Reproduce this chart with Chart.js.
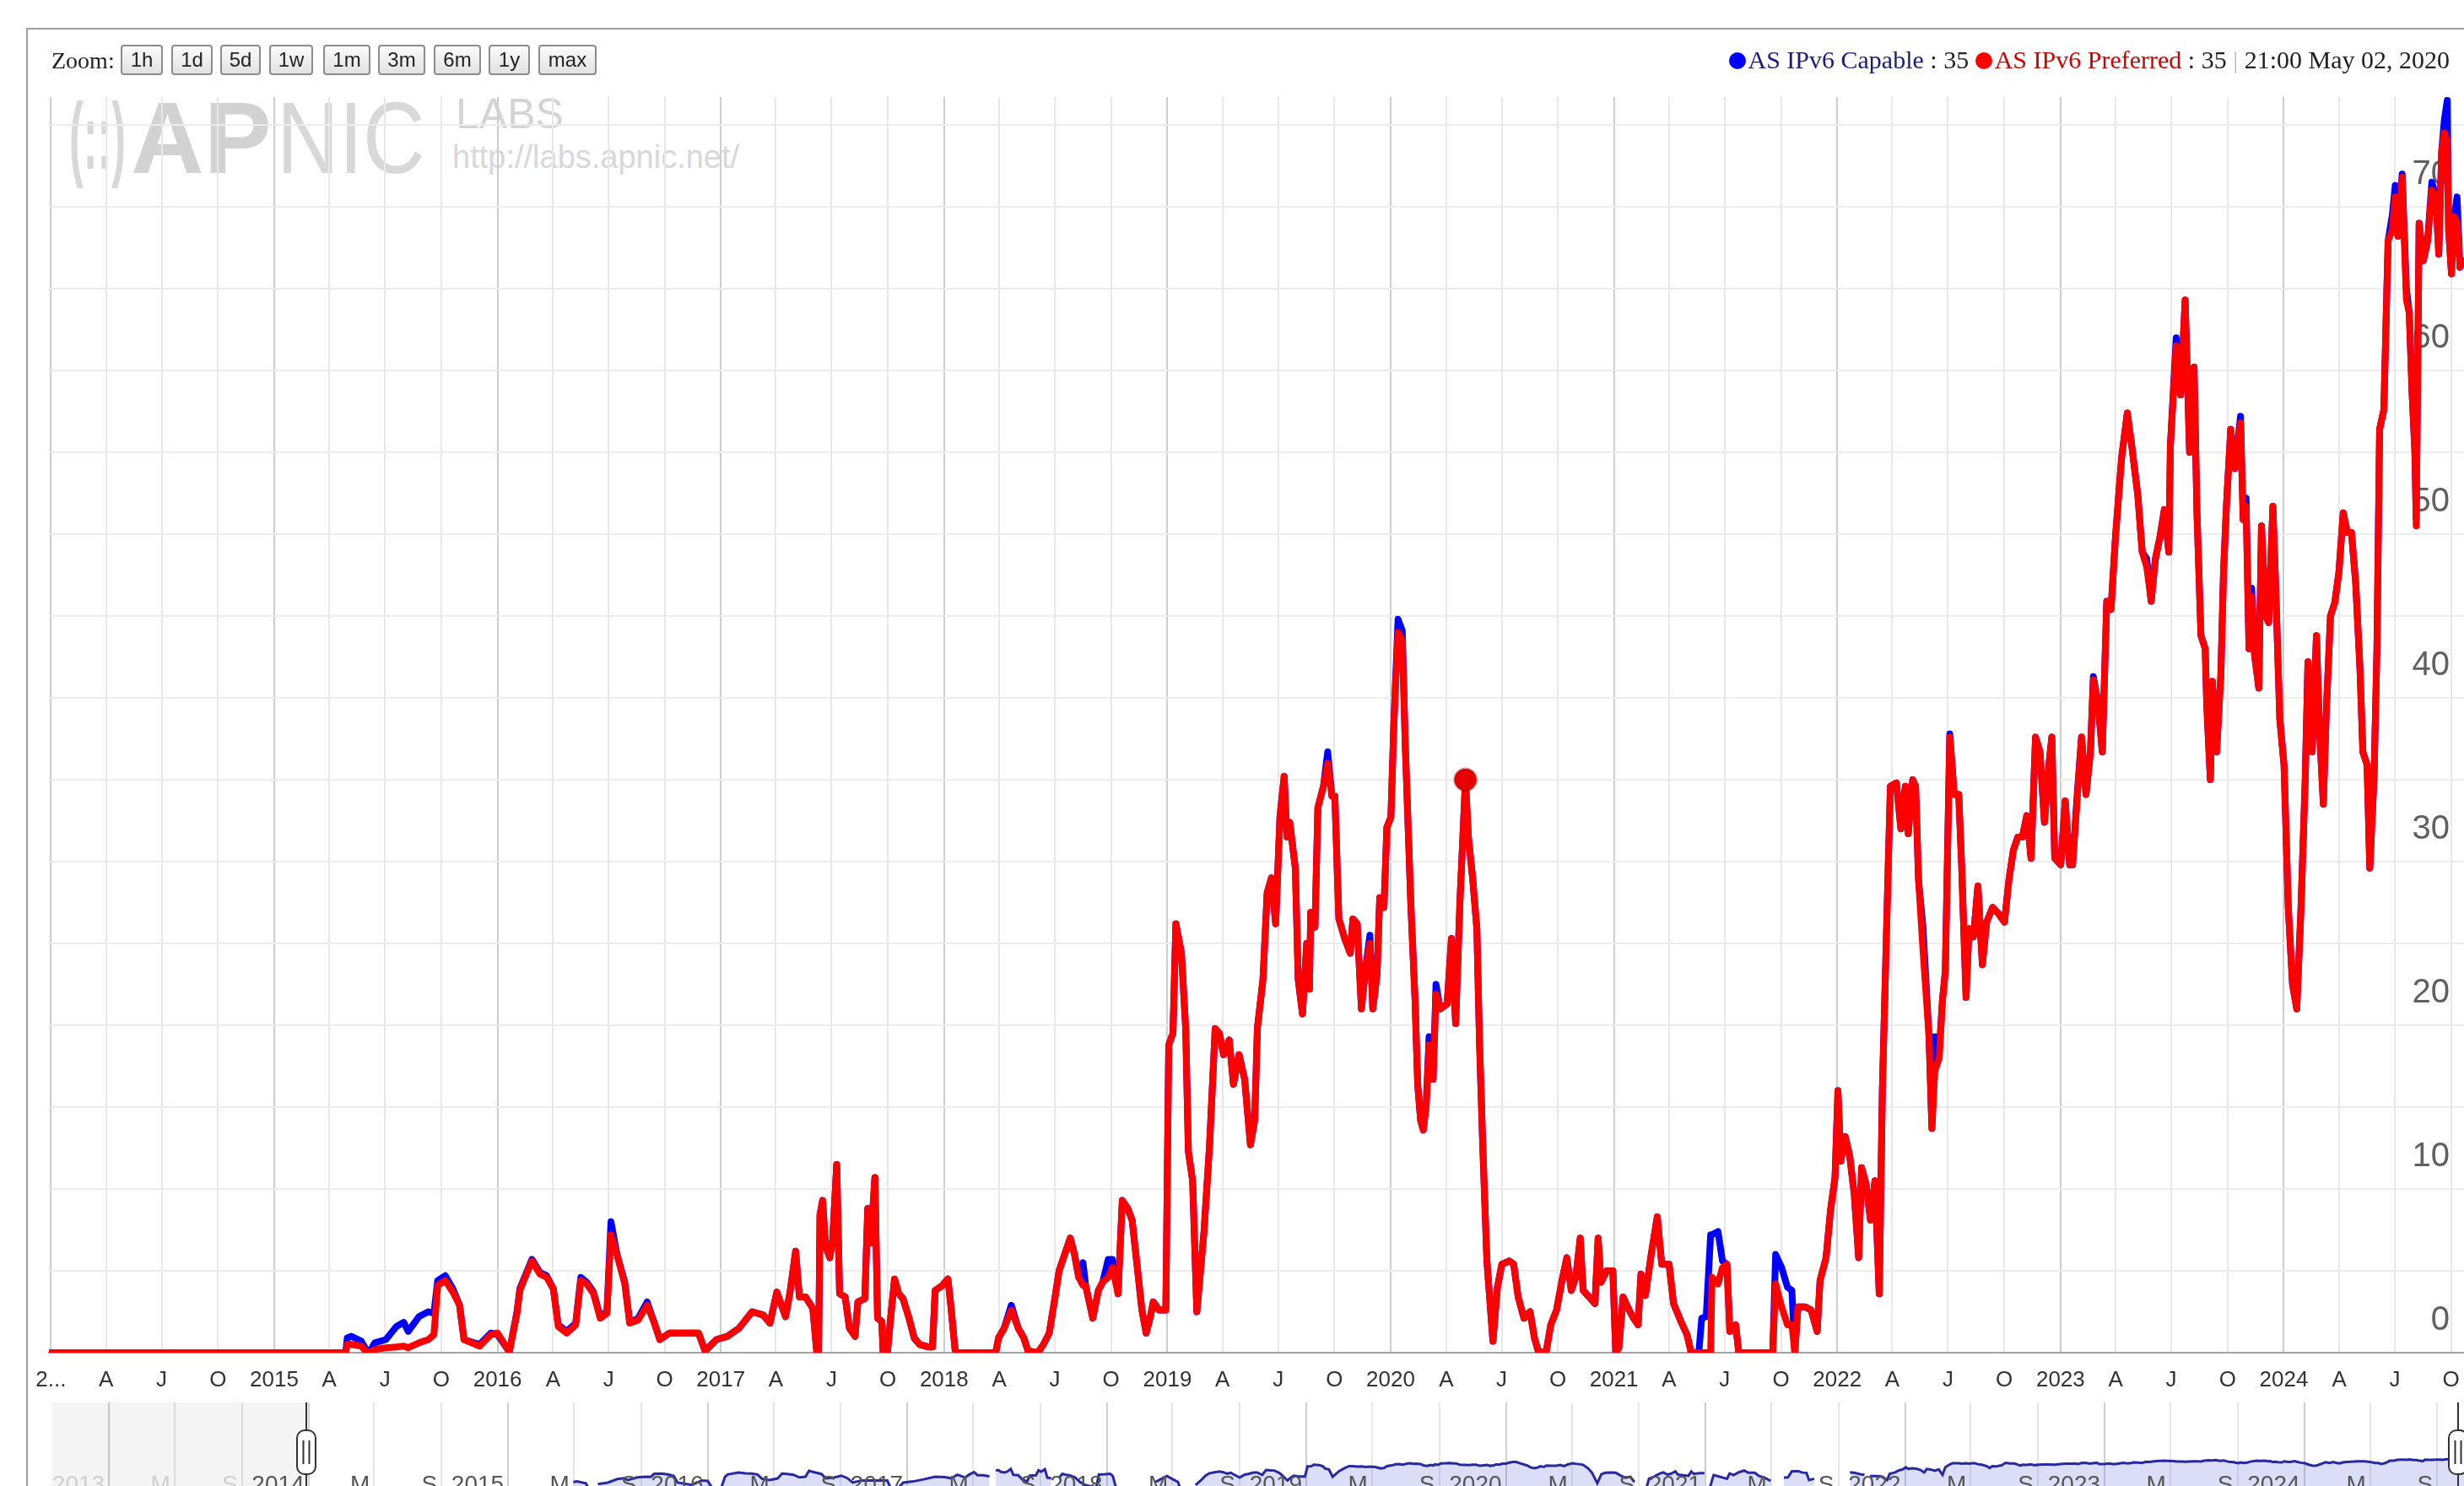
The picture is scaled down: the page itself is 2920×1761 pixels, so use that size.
<!DOCTYPE html>
<html><head><meta charset="utf-8">
<script src="https://cdn.jsdelivr.net/npm/chart.js@4.4.1/dist/chart.umd.min.js"></script>
<style>
html,body{margin:0;padding:0;background:#fff;overflow:hidden;width:2920px;height:1761px;}
#frame{position:absolute;left:31px;top:33px;width:3000px;height:2000px;border-left:2px solid #a0a0a0;border-top:2px solid #a0a0a0;}
#zoomLabel{position:absolute;left:61px;top:52px;font:28px 'Liberation Serif',serif;color:#222;line-height:40px;z-index:3;}
.btn{position:absolute;top:53px;height:36px;box-sizing:border-box;border:2px solid #8c8c8c;border-radius:4px;background:linear-gradient(#fbfbfb,#e2e2e2);font:24px 'Liberation Sans',Arial,sans-serif;color:#222;text-align:center;line-height:32px;z-index:3;}
#legend{position:absolute;right:17px;top:51px;font:30px 'Liberation Serif',serif;line-height:40px;white-space:nowrap;color:#222;z-index:3;}
.dot{display:inline-block;width:20px;height:20px;border-radius:50%;vertical-align:-1px;margin-right:3px;}
.wm{position:absolute;font-family:'Liberation Sans',Arial,sans-serif;color:#d8d8d8;white-space:nowrap;transform-origin:0 0;z-index:0;}
#main{position:absolute;left:0;top:0;z-index:1;}
#nav{position:absolute;left:0;top:1662px;z-index:1;}
</style>
</head>
<body>
<div id="frame"></div>
<div class="wm" style="left:82px;top:106px;font-size:112px;line-height:112px;font-weight:bold;transform:scaleX(0.45)">(::)</div>
<div class="wm" style="left:155px;top:103px;font-size:120px;line-height:120px;font-weight:bold;color:#d2d2d2">AP</div>
<div class="wm" style="left:328px;top:103px;font-size:120px;line-height:120px;transform:scaleX(0.85)">NIC</div>
<div class="wm" style="left:540px;top:110px;font-size:50px;line-height:50px;color:#d4d4d4">LABS</div>
<div class="wm" style="left:536px;top:164px;font-size:38px;line-height:44px;">http://labs.apnic.net/</div>
<canvas id="main" width="2920" height="1662"></canvas>
<canvas id="nav" width="2920" height="140"></canvas>
<div id="zoomLabel">Zoom:</div>
<div class="btn" style="left:143px;width:50px">1h</div>
<div class="btn" style="left:203px;width:49px">1d</div>
<div class="btn" style="left:261px;width:48px">5d</div>
<div class="btn" style="left:319px;width:52px">1w</div>
<div class="btn" style="left:383px;width:56px">1m</div>
<div class="btn" style="left:448px;width:56px">3m</div>
<div class="btn" style="left:514px;width:56px">6m</div>
<div class="btn" style="left:579px;width:49px">1y</div>
<div class="btn" style="left:638px;width:69px">max</div>
<div id="legend"><span class="dot" style="background:#0000ff"></span><span style="color:#1a1a80">AS IPv6 Capable</span> : <span>35</span> <span class="dot" style="background:#ff0000"></span><span style="color:#d40000">AS IPv6 Preferred</span> : <span>35</span> <span style="color:#bbb">|</span> <span>21:00 May 02, 2020</span></div>
<script>
// ---- data (time as decimal year) ----
const T = [
2013.99,2015.32,2015.327,2015.345,2015.39,2015.415,2015.425,2015.45,2015.50,2015.547,
2015.58,2015.60,2015.648,2015.69,2015.715,2015.732,2015.766,2015.80,2015.83,2015.85,
2015.92,2015.97,2016.00,2016.053,2016.087,2016.10,2016.154,2016.19,2016.22,2016.25,
2016.272,2016.31,2016.35,2016.373,2016.40,2016.43,2016.46,2016.49,2016.508,2016.535,
2016.57,2016.592,2016.63,2016.67,2016.70,2016.727,2016.77,2016.82,2016.90,2016.93,
2016.98,2017.03,2017.082,2017.14,2017.19,2017.22,2017.251,2017.29,2017.31,2017.335,
2017.352,2017.38,2017.412,2017.43,2017.438,2017.444,2017.456,2017.469,2017.488,2017.501,
2017.519,2017.532,2017.557,2017.576,2017.601,2017.614,2017.645,2017.658,2017.671,2017.690,
2017.702,2017.721,2017.727,2017.746,2017.759,2017.778,2017.797,2017.816,2017.841,2017.866,
2017.891,2017.929,2017.948,2017.960,2017.992,2018.017,2018.030,2018.049,2018.055,2018.231,
2018.244,2018.269,2018.301,2018.332,2018.357,2018.376,2018.420,2018.445,2018.471,2018.496,
2018.515,2018.540,2018.565,2018.584,2018.603,2018.622,2018.634,2018.666,2018.691,2018.710,
2018.735,2018.754,2018.779,2018.798,2018.823,2018.842,2018.867,2018.886,2018.905,2018.924,
2018.937,2018.962,2018.993,2019.006,2019.025,2019.038,2019.063,2019.082,2019.094,2019.113,
2019.132,2019.164,2019.189,2019.214,2019.233,2019.252,2019.277,2019.296,2019.321,2019.346,
2019.372,2019.391,2019.403,2019.428,2019.447,2019.466,2019.485,2019.504,2019.523,2019.535,
2019.548,2019.573,2019.586,2019.605,2019.624,2019.636,2019.642,2019.661,2019.674,2019.699,
2019.718,2019.737,2019.750,2019.768,2019.794,2019.819,2019.831,2019.850,2019.869,2019.888,
2019.907,2019.920,2019.939,2019.951,2019.970,2019.983,2020.001,2020.014,2020.033,2020.052,
2020.065,2020.090,2020.109,2020.121,2020.134,2020.146,2020.159,2020.172,2020.190,2020.203,
2020.222,2020.253,2020.272,2020.291,2020.310,2020.335,2020.348,2020.367,2020.386,2020.398,
2020.412,2020.431,2020.458,2020.478,2020.498,2020.531,2020.551,2020.571,2020.597,2020.624,
2020.644,2020.663,2020.697,2020.717,2020.743,2020.770,2020.789,2020.809,2020.829,2020.849,
2020.862,2020.889,2020.915,2020.929,2020.942,2020.968,2020.995,2021.008,2021.022,2021.041,
2021.068,2021.088,2021.108,2021.121,2021.141,2021.167,2021.194,2021.214,2021.247,2021.267,
2021.300,2021.327,2021.346,2021.380,2021.393,2021.413,2021.433,2021.439,2021.466,2021.486,
2021.506,2021.519,2021.545,2021.559,2021.711,2021.724,2021.751,2021.777,2021.797,2021.810,
2021.824,2021.857,2021.883,2021.910,2021.923,2021.950,2021.970,2021.990,2022.003,2022.016,
2022.036,2022.056,2022.076,2022.096,2022.109,2022.129,2022.149,2022.169,2022.188,2022.202,
2022.225,2022.238,2022.265,2022.285,2022.305,2022.318,2022.338,2022.351,2022.364,2022.384,
2022.411,2022.424,2022.437,2022.457,2022.471,2022.484,2022.504,2022.524,2022.544,2022.557,
2022.577,2022.590,2022.610,2022.630,2022.650,2022.669,2022.696,2022.723,2022.749,2022.769,
2022.789,2022.809,2022.829,2022.849,2022.868,2022.888,2022.908,2022.928,2022.948,2022.961,
2022.974,2023.001,2023.021,2023.041,2023.054,2023.074,2023.094,2023.114,2023.134,2023.147,
2023.167,2023.187,2023.207,2023.226,2023.246,2023.273,2023.299,2023.319,2023.346,2023.366,
2023.386,2023.406,2023.425,2023.445,2023.465,2023.485,2023.492,2023.518,2023.538,2023.558,
2023.578,2023.598,2023.611,2023.629,2023.648,2023.655,2023.671,2023.680,2023.699,2023.718,
2023.730,2023.743,2023.762,2023.781,2023.806,2023.818,2023.831,2023.844,2023.856,2023.869,
2023.888,2023.900,2023.919,2023.932,2023.951,2023.963,2023.982,2024.001,2024.020,2024.039,
2024.058,2024.077,2024.096,2024.108,2024.127,2024.146,2024.159,2024.177,2024.190,2024.209,
2024.228,2024.247,2024.266,2024.285,2024.303,2024.322,2024.341,2024.354,2024.373,2024.385,
2024.404,2024.417,2024.429,2024.448,2024.467,2024.486,2024.499,2024.511,2024.530,2024.549,
2024.562,2024.574,2024.587,2024.593,2024.606,2024.625,2024.644,2024.663,2024.681,2024.694,
2024.707,2024.719,2024.732,2024.738,2024.751,2024.763,2024.776,2024.789,2024.801
];
const capable = [
0,0,0.9,1.0,0.7,0.1,0,0.6,0.8,1.6,
1.85,1.3,2.2,2.5,2.4,4.4,4.7,3.9,2.9,0.8,
0.5,1.2,1.1,0.05,2.5,3.9,5.7,4.9,4.7,3.9,
1.7,1.3,1.8,4.6,4.3,3.7,2.2,2.5,8.0,6.0,
4.3,1.85,2.1,3.1,1.9,0.8,1.2,1.2,1.2,0.1,
0.8,1.0,1.5,2.5,2.3,1.8,3.7,2.2,3.7,6.2,
3.4,3.4,2.7,0,0,8.4,9.3,6.5,5.8,6.9,
11.5,3.6,3.4,1.5,1.0,3.1,3.3,8.8,6.7,10.7,
2.1,1.9,0,0,1.9,4.5,3.6,3.3,2.2,0.9,
0.5,0.35,0.35,3.8,4.1,4.5,2.9,0.2,0,0,
0.9,1.5,2.9,1.5,0.9,0.1,0,0.5,1.2,3.3,
5.0,6.0,7.0,6.0,4.6,5.5,4.1,2.1,3.8,4.3,
5.7,5.7,3.6,9.3,8.8,8.1,5.0,2.6,1.2,2.2,
3.1,2.6,2.6,18.8,19.5,26.2,24.4,19.8,12.3,10.5,
2.5,7.4,12.7,19.8,19.5,18.2,19.1,16.4,18.2,16.7,
12.7,14.2,19.8,22.8,28.1,29.0,26.2,32.7,35.2,31.5,
32.4,29.6,22.8,20.7,25.0,22.2,26.9,26.0,33.3,34.6,
36.7,34.0,34.0,26.5,25.3,24.4,26.5,26.2,21.0,23.5,
25.5,21.0,23.1,27.8,27.2,32.1,32.7,38.3,44.8,44.1,
37.3,27.5,21.6,16.4,14.2,13.6,15.1,19.3,16.7,22.5,
21.0,21.3,25.3,20.1,27.5,35.0,31.5,29.0,25.9,18.9,
12.8,5.6,0.7,4.0,5.4,5.6,5.4,3.4,2.1,2.5,
0.9,0,0.1,1.7,2.6,4.6,5.8,3.8,4.6,7.0,
3.8,3.4,3.0,7.0,4.3,5.0,5.0,0,0.3,3.4,
2.6,2.1,1.7,4.8,3.5,6.0,8.3,5.4,5.4,3.0,
1.9,1.1,0,0,2.1,2.2,7.2,7.2,7.4,5.6,
5.4,1.3,1.7,0,0,6.0,5.2,4.0,3.8,0,
2.8,2.8,2.6,1.3,4.4,5.8,8.7,10.7,16.0,11.7,
13.2,12.0,9.7,5.8,11.3,10.3,8.1,10.5,3.6,16.0,
28.0,34.6,34.8,32.0,34.6,31.7,35.0,34.6,28.9,26.0,
19.3,13.7,19.3,18.5,21.5,23.3,37.8,34.1,34.1,29.8,
21.7,25.9,25.4,28.5,23.7,26.3,27.2,26.8,26.3,28.9,
30.7,31.5,31.5,32.8,30.2,37.6,36.7,32.4,35.9,37.6,
30.2,29.8,33.7,29.8,29.8,34.0,37.6,34.1,36.7,41.3,
39.8,36.7,45.9,45.4,49.8,54.6,57.4,55.4,52.4,48.9,
48.5,45.9,48.5,49.8,51.5,48.9,55.4,62.0,58.5,64.3,
55.0,60.2,51.3,43.8,43.0,39.5,35.0,41.0,36.7,41.4,
47.7,51.7,56.4,54.0,57.2,50.9,52.2,43.0,46.7,42.6,
40.6,50.5,45.0,44.6,51.7,47.0,38.7,35.9,27.2,22.5,
21.0,27.2,35.1,42.2,36.7,43.8,38.3,33.5,39.1,45.0,
45.8,47.7,51.3,50.1,50.1,47.0,41.8,36.7,35.9,29.6,
35.1,43.0,56.4,57.6,67.9,69.5,71.3,68.2,72.0,65.0,
63.5,58.8,55.0,51.0,69.0,66.7,67.9,71.5,70.6,67.1,
73.4,75.3,76.5,68.6,65.9,69.4,70.6,66.3,66.7
];
const preferred = [
0,0,0.5,0.5,0.4,0,0,0.2,0.3,0.35,
0.4,0.3,0.6,0.8,1.1,4.1,4.4,3.7,2.9,0.8,
0.4,1.1,1.2,0.05,2.4,3.8,5.6,4.8,4.6,3.9,
1.6,1.2,1.7,4.4,4.2,3.6,2.1,2.4,7.2,6.0,
4.2,1.8,2.0,2.9,1.9,0.8,1.2,1.2,1.2,0.1,
0.8,1.0,1.5,2.5,2.3,1.8,3.7,2.2,3.7,6.2,
3.4,3.4,2.7,0,0,8.4,9.3,6.5,5.8,6.9,
11.5,3.6,3.4,1.5,1.0,3.1,3.3,8.8,6.7,10.7,
2.1,1.9,0,0,1.9,4.5,3.6,3.3,2.2,0.9,
0.5,0.35,0.35,3.8,4.1,4.5,2.9,0.2,0,0,
0.9,1.5,2.6,1.5,0.9,0.1,0,0.5,1.2,3.3,
5.0,6.0,7.0,6.0,4.6,4.1,4.1,2.1,3.8,4.3,
4.6,5.2,3.6,9.3,8.8,8.1,5.0,2.6,1.2,2.2,
3.1,2.6,2.6,18.8,19.5,26.2,24.4,19.8,12.3,10.5,
2.5,7.4,12.7,19.8,19.5,18.2,19.1,16.4,18.2,16.7,
12.7,14.2,19.8,22.8,28.1,29.0,26.2,32.7,35.2,31.5,
32.4,29.6,22.8,20.7,25.0,22.2,26.9,26.0,33.3,34.6,
36.0,34.0,34.0,26.5,25.3,24.4,26.5,26.2,21.0,23.5,
25.0,21.0,23.1,27.8,27.2,32.1,32.7,38.3,44.0,43.5,
37.3,27.5,21.6,16.4,14.2,13.6,15.1,18.8,16.7,21.9,
21.0,21.3,25.3,20.1,27.5,35.0,31.5,29.0,25.9,18.9,
12.8,5.6,0.7,4.0,5.4,5.6,5.4,3.4,2.1,2.5,
0.9,0,0.1,1.7,2.6,4.6,5.8,3.8,4.6,7.0,
3.8,3.4,3.0,7.0,4.3,5.0,5.0,0,0.3,3.4,
2.6,2.1,1.7,4.8,3.5,6.0,8.3,5.4,5.4,3.0,
1.9,1.1,0,0,0,0,0,4.6,4.2,5.2,
5.4,1.3,1.7,0,0,4.2,2.8,1.7,1.7,0,
2.8,2.8,2.6,1.3,4.4,5.8,8.7,10.7,16.0,11.7,
13.2,12.0,9.7,5.8,11.3,10.3,8.1,10.5,3.6,16.0,
28.0,34.6,34.8,32.0,34.6,31.7,35.0,34.6,28.9,24.6,
19.3,13.7,17.2,18.0,21.5,23.3,37.6,34.1,34.1,29.8,
21.7,25.9,25.4,28.5,23.7,26.3,27.2,26.8,26.3,28.9,
30.7,31.5,31.5,32.8,30.2,37.6,36.7,32.4,35.9,37.6,
30.2,29.8,33.7,29.8,29.8,33.7,37.6,34.1,36.7,41.1,
39.8,36.7,45.9,45.4,49.8,54.6,57.4,55.4,52.4,48.9,
48.0,45.9,48.5,49.8,51.5,48.9,55.4,61.5,58.5,64.3,
55.0,60.2,51.3,43.8,43.0,39.5,35.0,41.0,36.7,41.4,
47.7,51.7,56.4,54.0,56.8,50.9,51.7,43.0,46.2,42.6,
40.6,50.5,45.0,44.6,51.7,47.0,38.7,35.9,27.2,22.5,
21.0,27.2,35.1,42.2,36.7,43.8,38.3,33.5,39.1,45.0,
45.8,47.7,51.3,50.1,50.1,47.0,41.8,36.7,35.9,29.6,
35.1,43.0,56.4,57.6,67.9,68.6,70.6,68.2,71.8,64.3,
63.5,58.8,55.0,50.5,69.0,66.7,67.9,71.0,70.6,67.1,
73.4,74.5,74.0,68.6,65.9,69.4,69.0,66.3,66.7
];
const seriesNames = ['AS IPv6 Capable', 'AS IPv6 Preferred'];
const highlightTime = [2020.335];
const highlightValue = [35];

// main x axis ticks (quarters)
const xTickDates = ['2014-01','2014-04','2014-07','2014-10','2015-01','2015-04','2015-07','2015-10',
'2016-01','2016-04','2016-07','2016-10','2017-01','2017-04','2017-07','2017-10',
'2018-01','2018-04','2018-07','2018-10','2019-01','2019-04','2019-07','2019-10',
'2020-01','2020-04','2020-07','2020-10','2021-01','2021-04','2021-07','2021-10',
'2022-01','2022-04','2022-07','2022-10','2023-01','2023-04','2023-07','2023-10',
'2024-01','2024-04','2024-07','2024-10'];
const xTickLabels = ['2...','A','J','O','2015','A','J','O','2016','A','J','O','2017','A','J','O',
'2018','A','J','O','2019','A','J','O','2020','A','J','O','2021','A','J','O',
'2022','A','J','O','2023','A','J','O','2024','A','J','O'];
const yTickValues = [0,5,10,15,20,25,30,35,40,45,50,55,60,65,70,75];
const yTickLabels = ['0','','10','','20','','30','','40','','50','','60','','70',''];

// navigator ticks
const navTickDates = ['2013-01','2013-05','2013-09','2014-01','2014-05','2014-09','2015-01','2015-05','2015-09',
'2016-01','2016-05','2016-09','2017-01','2017-05','2017-09','2018-01','2018-05','2018-09',
'2019-01','2019-05','2019-09','2020-01','2020-05','2020-09','2021-01','2021-05','2021-09',
'2022-01','2022-05','2022-09','2023-01','2023-05','2023-09','2024-01','2024-05','2024-09'];
const navTickLabels = ['2013','M','S','2014','M','S','2015','M','S','2016','M','S','2017','M','S',
'2018','M','S','2019','M','S','2020','M','S','2021','M','S','2022','M','S','2023','M','S','2024','M','S'];

// ---- helpers ----
function decYear(s){const p=s.split('-').map(Number);const a=Date.UTC(p[0],p[1]-1,1),b=Date.UTC(p[0],0,1),c=Date.UTC(p[0]+1,0,1);return p[0]+(a-b)/(c-b);}
const isYear = v => Math.abs(v-Math.round(v))<1e-6;
const xTicks = xTickDates.map(decYear);
const navTicks = navTickDates.map(decYear);
const xMin = 2013.991, xMax = 2024.807;
const navMin = 2012.712, navMax = 2024.801;
const PAGE_W = 2920;

Chart.defaults.font.family = "'Liberation Sans', Arial, sans-serif";

const pts = arr => T.map((t,i)=>({x:t,y:arr[i]}));
const noSidePad = s => { s.paddingLeft = 0; s.paddingRight = 0; };

function build(id, h, cfgFn){
  const cv = document.getElementById(id);
  cv.width = PAGE_W; cv.height = h;
  let ch = new Chart(cv, cfgFn());
  const d = PAGE_W - ch.chartArea.right;
  if (Math.abs(d) > 0.5) {
    ch.destroy();
    cv.width = Math.round(PAGE_W + d); cv.height = h;
    cv.style.width = cv.width + 'px'; cv.style.height = h + 'px';
    ch = new Chart(cv, cfgFn());
  }
  return ch;
}

const mainCfg = () => ({
  type:'line',
  data:{datasets:[
    {label:'highlight', data: highlightTime.map((t,i)=>({x:t,y:highlightValue[i]})), showLine:false,
     pointRadius:13, pointBackgroundColor:'rgb(232,0,0)', pointBorderColor:'rgba(150,0,0,0.35)', pointBorderWidth:3, order:0},
    {label:seriesNames[1], data:pts(preferred), borderColor:'rgb(255,0,0)', borderWidth:8, pointRadius:0, tension:0,
     borderJoinStyle:'round', borderCapStyle:'round', fill:false, order:1},
    {label:seriesNames[0], data:pts(capable), borderColor:'rgb(0,0,255)', borderWidth:8, pointRadius:0, tension:0,
     borderJoinStyle:'round', borderCapStyle:'round', fill:false, order:2}
  ]},
  options:{
    responsive:false, animation:false, devicePixelRatio:1, events:[],
    layout:{padding:{left:58, top:115, right:0, bottom:0}},
    plugins:{legend:{display:false}, tooltip:{enabled:false}},
    scales:{
      x:{type:'linear', min:xMin, max:xMax,
         afterBuildTicks:s=>{s.ticks = xTicks.map(v=>({value:v}));},
         afterFit:s=>{s.height = 59; noSidePad(s);},
         ticks:{autoSkip:false, maxRotation:0, minRotation:0, padding:0, color:'#333',
                font:{size:26},
                callback:(v,i)=>xTickLabels[i]},
         grid:{drawTicks:true, tickLength:17, tickColor:'rgba(0,0,0,0)', lineWidth:2,
               color:c=> (c.tick && isYear(c.tick.value)) ? '#cdcdcd' : '#e8e8e8'},
         border:{display:true, color:'#a3a3a3', width:2}},
      y:{position:'right', min:0, max:76.7,
         afterBuildTicks:s=>{s.ticks = yTickValues.map(v=>({value:v}));},
         afterFit:s=>{s.width = 0;},
         ticks:{mirror:true, padding:-17, labelOffset:-38, color:'#606060', font:{size:40},
                callback:(v,i)=>yTickLabels[i]},
         grid:{drawTicks:false, lineWidth:2, color:'#ececec'},
         border:{display:false}}
    }
  }
});

const navDecor = {
  id:'navDecor',
  afterDatasetsDraw(chart){
    const ctx = chart.ctx, xs = chart.scales.x, a = chart.chartArea;
    const l = xs.getPixelForValue(xMin);
    ctx.save();
    ctx.fillStyle = 'rgba(0,0,0,0.045)';
    ctx.fillRect(a.left, a.top, l - a.left, a.bottom - a.top);
    // tick labels of the navigator axis
    ctx.font = "28px 'Liberation Sans', Arial, sans-serif";
    ctx.textAlign = 'right'; ctx.textBaseline = 'top';
    navTicks.forEach((v,i)=>{
      ctx.fillStyle = v < xMin ? '#cfcfcf' : '#555';
      ctx.fillText(navTickLabels[i], xs.getPixelForValue(v) - 5, 84);
    });
    ctx.restore();
  },
  afterDraw(chart){
    const ctx = chart.ctx, xs = chart.scales.x, a = chart.chartArea;
    const hx = [xs.getPixelForValue(xMin), Math.min(xs.getPixelForValue(xMax), 2913)];
    ctx.save();
    hx.forEach(x=>{
      x = Math.round(x);
      ctx.strokeStyle = '#333'; ctx.lineWidth = 2;
      ctx.beginPath(); ctx.moveTo(x, a.top); ctx.lineTo(x, a.bottom); ctx.stroke();
      const w = 22, h = 52, y0 = 33, r = 9;
      ctx.beginPath();
      ctx.roundRect(x - w/2, y0, w, h, r);
      ctx.fillStyle = '#fff'; ctx.fill(); ctx.stroke();
      ctx.beginPath();
      ctx.moveTo(x-3.5, y0+12); ctx.lineTo(x-3.5, y0+h-12);
      ctx.moveTo(x+3.5, y0+12); ctx.lineTo(x+3.5, y0+h-12);
      ctx.stroke();
    });
    ctx.restore();
  }
};

const navCfg = () => ({
  type:'line',
  data:{datasets:[{label:seriesNames[0], data:pts(capable), borderColor:'rgb(40,40,165)', borderWidth:3,
    backgroundColor:'rgba(80,90,220,0.2)', fill:'start', pointRadius:0, tension:0}]},
  options:{
    responsive:false, animation:false, devicePixelRatio:1, events:[],
    layout:{padding:{left:61, top:0, right:0, bottom:0}},
    plugins:{legend:{display:false}, tooltip:{enabled:false}},
    scales:{
      x:{type:'linear', min:navMin, max:navMax,
         afterBuildTicks:s=>{s.ticks = navTicks.map(v=>({value:v}));},
         afterFit:s=>{s.height = 0; noSidePad(s);},
         ticks:{display:false},
         grid:{drawTicks:false, lineWidth:2, color:c=> (c.tick && isYear(c.tick.value)) ? '#cfcfcf' : '#e6e6e6'},
         border:{display:false}},
      y:{type:'logarithmic', display:false, min:0.000485, max:4.85e6}
    }
  },
  plugins:[navDecor]
});

build('main', 1662, mainCfg);
build('nav', 140, navCfg);
</script>
</body></html>
